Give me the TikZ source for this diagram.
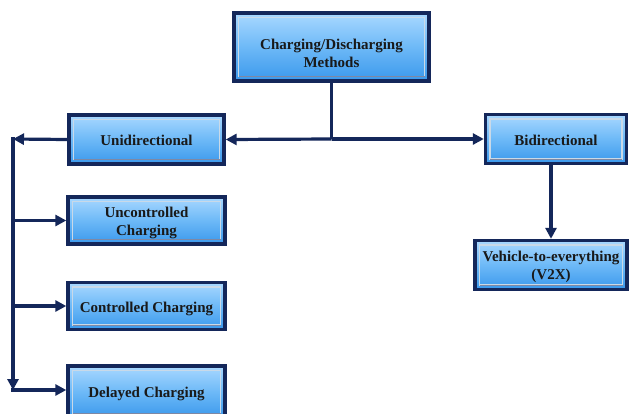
\documentclass[tikz,border=0pt]{standalone}
\usepackage{fontspec}
\setmainfont{Liberation Serif}
\usetikzlibrary{arrows.meta}
\definecolor{navy}{HTML}{14275A}
\definecolor{boxtop}{HTML}{A9D8FF}
\definecolor{boxmid}{HTML}{6DB9F7}
\definecolor{boxbot}{HTML}{3A98EC}
\definecolor{bevel}{HTML}{C9D9E8}
\tikzset{
  box/.style={draw=navy, line width=3.4pt, top color=boxtop, bottom color=boxbot,
    middle color=boxmid, inner sep=0pt,
    path picture={
      \draw[bevel, line width=1.2pt]
        ([shift={(4.5pt,-4.5pt)}]path picture bounding box.north west) rectangle
        ([shift={(-4.5pt,4.5pt)}]path picture bounding box.south east);
      \draw[navy!55, line width=1pt]
        ([shift={(4.5pt,4.5pt)}]path picture bounding box.south west) --
        ([shift={(-4.5pt,4.5pt)}]path picture bounding box.south east);
    }},
  lbl/.style={align=center, inner sep=0pt, text=black!90,
    font=\fontsize{15}{18}\selectfont\bfseries},
  link/.style={draw=navy, line width=3.2pt},
  arr/.style={link, -{Triangle[length=11pt,width=11pt]}}
}
\begin{document}
\begin{tikzpicture}[x=1pt,y=-1pt]
  \clip (0,0) rectangle (629,413);
  \fill[white] (0,0) rectangle (629,413);

  % boxes
  \node[box, minimum width=195pt, minimum height=68pt] (top) at (331.5,47) {};
  \node[box, minimum width=155pt, minimum height=49pt] (uni) at (146.5,139.5) {};
  \node[box, minimum width=141pt, minimum height=49pt] (bi) at (556,139) {};
  \node[box, minimum width=157pt, minimum height=47pt] (unc) at (146.5,220.5) {};
  \node[box, minimum width=157pt, minimum height=47pt] (con) at (146.5,306) {};
  \node[box, minimum width=157pt, minimum height=52pt] (del) at (146.5,392) {};
  \node[box, minimum width=152pt, minimum height=49pt] (v2x) at (551,265) {};

  % box labels
  \node[lbl] (top-t) at ([yshift=-6pt]top.center) {Charging/Discharging\\Methods};
  \node[lbl] (uni-t) at ([yshift=-1pt]uni.center) {Unidirectional};
  \node[lbl] (bi-t) at ([yshift=-1.5pt]bi.center) {Bidirectional};
  \node[lbl] (unc-t) at ([yshift=-2pt]unc.center) {Uncontrolled\\Charging};
  \node[lbl] (con-t) at ([yshift=-2.5pt]con.center) {Controlled Charging};
  \node[lbl] (del-t) at ([yshift=-2pt]del.center) {Delayed Charging};
  \node[lbl] (v2x-t) at ([yshift=-2pt]v2x.center) {Vehicle-to-everything\\(V2X)};

  % connectors from the top box
  \coordinate (j) at (331.5,139);
  \draw[link] (top.south) -- (j);
  \draw[arr] (j) -- (uni.east);
  \draw[arr] (j) -- (bi.west);

  % unidirectional branch
  \coordinate (L) at (13,139);
  \coordinate (B) at (13,390);
  \draw[arr] (uni.west) -- (L);
  \draw[arr] ([yshift=1.6pt]L) -- (B);
  \draw[arr] (L |- unc.west) -- (unc.west);
  \draw[arr] (L |- con.west) -- (con.west);
  \draw[arr] ([xshift=-1.6pt]B) -- (B -| del.west);

  % bidirectional branch
  \draw[arr] (bi.south -| v2x.north) -- (v2x.north);
\end{tikzpicture}
\end{document}
